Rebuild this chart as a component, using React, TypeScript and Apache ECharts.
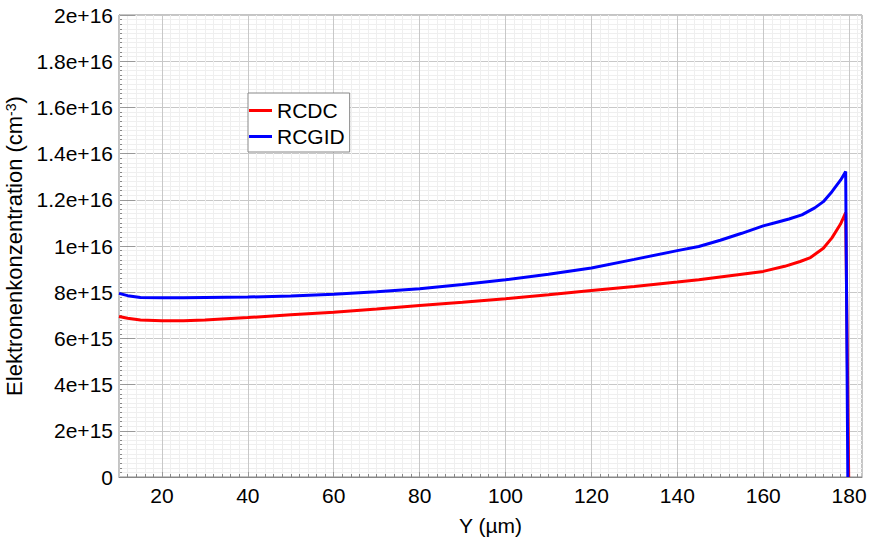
import React, { useEffect, useRef } from "react";
import * as echarts from "echarts";

const xValues = [10, 12, 15, 20, 25, 30, 40, 50, 60, 70, 80, 90, 100, 110, 120, 130, 140, 145, 150, 155, 160, 165, 168.6, 171, 174, 176, 178, 179.2, 179.9];
const rcdc = [6.95, 6.87, 6.8, 6.76, 6.76, 6.8, 6.9, 7.02, 7.13, 7.27, 7.42, 7.56, 7.72, 7.89, 8.07, 8.25, 8.44, 8.54, 8.66, 8.78, 8.9, 9.12, 9.33, 9.5, 9.9, 10.35, 10.95, 11.45, 0];
const rcgidX = [10, 12, 15, 20, 25, 30, 40, 50, 60, 70, 80, 90, 100, 110, 120, 130, 140, 145, 150, 155, 160, 163, 166, 169, 172, 174, 176, 178, 179.2, 179.7];
const rcgid = [7.95, 7.85, 7.77, 7.76, 7.76, 7.77, 7.79, 7.84, 7.91, 8.02, 8.15, 8.33, 8.54, 8.78, 9.05, 9.42, 9.8, 9.98, 10.25, 10.55, 10.87, 11.02, 11.17, 11.35, 11.65, 11.92, 12.35, 12.85, 13.22, 0];
const seriesNames = ["RCDC", "RCGID"];
const FONT = "Liberation Sans";

export default function App() {
  const ref = useRef<HTMLDivElement>(null);
  useEffect(() => {
    if (!ref.current) return;
    const chart = echarts.init(ref.current, undefined, { renderer: "svg" });
    const fmtY = (v: number) => {
      if (v === 0) return "0";
      return Number(v.toPrecision(3)).toExponential();
    };
    chart.setOption({
      animation: false,
      backgroundColor: "#fff",
      textStyle: { fontFamily: FONT },
      grid: {
        left: 119, top: 15, right: 7, bottom: 65,
        outerBoundsMode: "none",
        containLabel: false,
        show: true, borderColor: "#888", borderWidth: 1, backgroundColor: "transparent",
      },
      legend: {
        orient: "vertical",
        left: 248,
        top: 93,
        padding: [7, 5, 5, 1],
        itemGap: 5,
        itemWidth: 23,
        itemHeight: 3,
        icon: "rect",
        backgroundColor: "#fff",
        borderColor: "#888",
        borderWidth: 1,
        textStyle: { fontFamily: FONT, fontSize: 21, color: "#000" },
        data: seriesNames,
      },
      xAxis: [
        {
          type: "value",
          min: 10,
          max: 183,
          splitNumber: 8,
          minInterval: 20,
          maxInterval: 20,
          position: "bottom",
          z: 2,
          name: "Y (µm)",
          nameLocation: "middle",
          nameGap: 38,
          nameTextStyle: { fontFamily: FONT, fontSize: 21, color: "#000" },
          axisLine: { show: true, lineStyle: { color: "#888", width: 1 } },
          axisTick: { show: true, inside: true, length: 5, lineStyle: { color: "#999" } },
          axisLabel: { showMinLabel: false, showMaxLabel: false, fontFamily: FONT, fontSize: 21, color: "#000", margin: 8 },
          splitLine: { show: true, lineStyle: { color: "#c8c8c8", width: 1 } },
        },
        {
          type: "value",
          min: 10,
          max: 183,
          splitNumber: 80,
          minInterval: 2,
          maxInterval: 2,
          position: "bottom",
          z: 0,
          axisLine: { show: false },
          axisTick: { show: true, inside: true, length: 3, lineStyle: { color: "#888" } },
          axisLabel: { show: false },
          splitLine: { show: true, lineStyle: { color: "#efefef", width: 1 } },
        },
      ],
      yAxis: {
        type: "value",
        min: 0,
        max: 2e16,
        interval: 2e15,
        name: "Elektronenkonzentration (cm{sup|-3})",
        nameLocation: "middle",
        nameGap: 83,
        nameTextStyle: {
          fontFamily: FONT,
          fontSize: 22,
          color: "#000",
          rich: { sup: { fontFamily: FONT, fontSize: 14, color: "#000", verticalAlign: "top", padding: [0, 0, 8, 0] } },
        },
        axisLine: { show: true, lineStyle: { color: "#888", width: 1 } },
        axisTick: { show: true, inside: true, length: 16, lineStyle: { color: "#999" } },
        minorTick: { show: true, splitNumber: 10, length: 3, lineStyle: { color: "#888" } },
        minorSplitLine: { show: true, lineStyle: { color: "#efefef", width: 1 } },
        splitLine: { show: true, lineStyle: { color: "#c8c8c8", width: 1 } },
        axisLabel: { fontFamily: FONT, fontSize: 21, color: "#000", margin: 6, formatter: fmtY },
      },
      series: [
        {
          name: seriesNames[0],
          type: "line",
          xAxisIndex: 0,
          symbol: "none",
          smooth: false,
          z: 3,
          lineStyle: { color: "#ff0000", width: 3 },
          itemStyle: { color: "#ff0000" },
          data: xValues.map((x, i) => [x, rcdc[i] * 1e15]),
        },
        {
          name: seriesNames[1],
          type: "line",
          xAxisIndex: 0,
          symbol: "none",
          smooth: false,
          z: 4,
          lineStyle: { color: "#0000ff", width: 3 },
          itemStyle: { color: "#0000ff" },
          data: rcgidX.map((x, i) => [x, rcgid[i] * 1e15]),
        },
      ],
    });
    return () => chart.dispose();
  }, []);
  return <div ref={ref} style={{ position: "absolute", left: 0, top: 0, width: 869, height: 542 }} />;
}
